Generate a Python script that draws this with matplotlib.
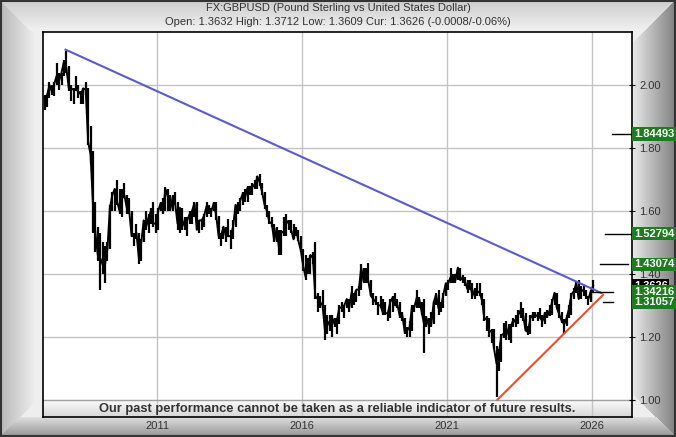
import numpy as np
import matplotlib
matplotlib.use('Agg')
import matplotlib.pyplot as plt

plt.rcParams['font.family'] = ['Liberation Sans', 'DejaVu Sans']

# monthly bars, Feb 2007 .. Jan 2026
lows = [
    1.92, 1.93, 1.96, 1.97, 1.965, 2.00, 1.985, 2.00, 2.03, 2.04, 1.98,
    1.95, 1.94, 1.98, 1.96, 1.94, 1.94, 1.97, 1.81, 1.75, 1.53, 1.47, 1.44,
    1.35, 1.40, 1.37, 1.44, 1.48, 1.60, 1.60, 1.62, 1.59, 1.58, 1.64, 1.59,
    1.59, 1.52, 1.49, 1.51, 1.43, 1.44, 1.50, 1.54, 1.53, 1.56, 1.55, 1.53,
    1.54, 1.60, 1.59, 1.60, 1.60, 1.60, 1.60, 1.62, 1.54, 1.53, 1.54, 1.54,
    1.52, 1.56, 1.56, 1.58, 1.54, 1.53, 1.54, 1.55, 1.58, 1.59, 1.58, 1.60,
    1.57, 1.51, 1.49, 1.51, 1.50, 1.52, 1.48, 1.51, 1.55, 1.59, 1.60, 1.62,
    1.63, 1.63, 1.65, 1.65, 1.67, 1.67, 1.68, 1.65, 1.605, 1.58, 1.56, 1.55,
    1.50, 1.50, 1.46, 1.46, 1.52, 1.52, 1.54, 1.53, 1.51, 1.52, 1.505, 1.47,
    1.41, 1.38, 1.40, 1.40, 1.43, 1.32, 1.28, 1.29, 1.29, 1.19, 1.21, 1.22,
    1.20, 1.23, 1.21, 1.24, 1.28, 1.26, 1.29, 1.28, 1.29, 1.30, 1.31, 1.33,
    1.35, 1.37, 1.37, 1.37, 1.33, 1.30, 1.30, 1.27, 1.29, 1.27, 1.27, 1.25,
    1.26, 1.28, 1.30, 1.29, 1.26, 1.25, 1.21, 1.20, 1.20, 1.22, 1.28, 1.29,
    1.29, 1.27, 1.15, 1.23, 1.21, 1.23, 1.24, 1.30, 1.27, 1.28, 1.29, 1.33,
    1.35, 1.37, 1.37, 1.37, 1.38, 1.38, 1.37, 1.36, 1.34, 1.35, 1.32, 1.32,
    1.33, 1.33, 1.30, 1.25, 1.22, 1.20, 1.18, 1.16, 1.01, 1.09, 1.12, 1.195,
    1.19, 1.19, 1.18, 1.23, 1.23, 1.24, 1.26, 1.25, 1.22, 1.205, 1.21, 1.25,
    1.26, 1.25, 1.26, 1.23, 1.24, 1.26, 1.265, 1.27, 1.30, 1.29, 1.26, 1.245,
    1.21, 1.235, 1.26, 1.27, 1.32, 1.34, 1.32, 1.32, 1.33, 1.32, 1.30, 1.31,
    1.34,
]
highs = [
    1.97, 1.97, 2.01, 2.00, 2.01, 2.07, 2.04, 2.04, 2.08, 2.11, 2.06,
    2.00, 1.99, 2.03, 2.00, 1.98, 1.99, 2.01, 1.99, 1.87, 1.79, 1.63, 1.55,
    1.53, 1.50, 1.49, 1.50, 1.62, 1.66, 1.67, 1.70, 1.67, 1.67, 1.69, 1.65,
    1.64, 1.60, 1.53, 1.56, 1.53, 1.51, 1.57, 1.60, 1.59, 1.61, 1.63, 1.59,
    1.61, 1.63, 1.64, 1.675, 1.67, 1.65, 1.65, 1.66, 1.63, 1.61, 1.61, 1.58,
    1.58, 1.60, 1.60, 1.63, 1.63, 1.57, 1.575, 1.59, 1.63, 1.62, 1.61, 1.63,
    1.63, 1.585, 1.53, 1.55, 1.55, 1.575, 1.54, 1.57, 1.62, 1.63, 1.64, 1.66,
    1.67, 1.68, 1.68, 1.69, 1.70, 1.71, 1.717, 1.69, 1.66, 1.62, 1.60, 1.58,
    1.56, 1.55, 1.54, 1.54, 1.58, 1.59, 1.57, 1.57, 1.56, 1.55, 1.54, 1.52,
    1.48, 1.46, 1.45, 1.46, 1.47, 1.50, 1.34, 1.33, 1.35, 1.30, 1.27, 1.27,
    1.27, 1.26, 1.26, 1.30, 1.31, 1.30, 1.32, 1.32, 1.36, 1.34, 1.35, 1.36,
    1.43, 1.42, 1.42, 1.435, 1.38, 1.34, 1.33, 1.31, 1.33, 1.32, 1.31, 1.28,
    1.32, 1.33, 1.34, 1.32, 1.31, 1.28, 1.26, 1.23, 1.25, 1.30, 1.30, 1.35,
    1.325, 1.31, 1.32, 1.265, 1.26, 1.28, 1.31, 1.34, 1.35, 1.31, 1.34, 1.37,
    1.38, 1.42, 1.40, 1.40, 1.42, 1.42, 1.395, 1.39, 1.38, 1.38, 1.37, 1.355,
    1.37, 1.37, 1.34, 1.32, 1.265, 1.26, 1.225, 1.225, 1.17, 1.16, 1.21, 1.245,
    1.25, 1.24, 1.24, 1.26, 1.27, 1.285, 1.31, 1.29, 1.275, 1.235, 1.27, 1.28,
    1.28, 1.28, 1.29, 1.27, 1.28, 1.285, 1.30, 1.32, 1.34, 1.34, 1.305, 1.28,
    1.255, 1.27, 1.30, 1.34, 1.355, 1.375, 1.38, 1.36, 1.36, 1.35, 1.33, 1.35,
    1.38,
]
closes = [
    1.96, 1.968, 2.00, 1.98, 2.005, 2.03, 2.015, 2.04, 2.075, 2.055, 1.99,
    1.99, 1.985, 1.985, 1.98, 1.97, 1.99, 1.985, 1.82, 1.78, 1.62, 1.53, 1.46,
    1.45, 1.43, 1.43, 1.48, 1.61, 1.65, 1.67, 1.63, 1.60, 1.64, 1.65, 1.61,
    1.60, 1.52, 1.52, 1.53, 1.45, 1.50, 1.57, 1.55, 1.58, 1.60, 1.56, 1.56,
    1.60, 1.625, 1.605, 1.67, 1.645, 1.605, 1.645, 1.625, 1.56, 1.61, 1.57, 1.55,
    1.57, 1.59, 1.60, 1.625, 1.54, 1.57, 1.57, 1.585, 1.615, 1.61, 1.60, 1.625,
    1.585, 1.52, 1.52, 1.55, 1.52, 1.52, 1.52, 1.55, 1.62, 1.60, 1.635, 1.655,
    1.645, 1.675, 1.665, 1.685, 1.675, 1.71, 1.69, 1.66, 1.62, 1.60, 1.565, 1.56,
    1.505, 1.545, 1.48, 1.535, 1.53, 1.57, 1.56, 1.54, 1.51, 1.545, 1.505, 1.475,
    1.425, 1.39, 1.435, 1.46, 1.45, 1.33, 1.32, 1.31, 1.30, 1.22, 1.25, 1.235,
    1.26, 1.24, 1.255, 1.295, 1.29, 1.30, 1.32, 1.29, 1.34, 1.33, 1.35, 1.35,
    1.42, 1.375, 1.40, 1.375, 1.33, 1.32, 1.31, 1.30, 1.30, 1.275, 1.275, 1.275,
    1.31, 1.325, 1.30, 1.30, 1.265, 1.27, 1.215, 1.22, 1.23, 1.295, 1.295, 1.325,
    1.32, 1.28, 1.24, 1.26, 1.235, 1.24, 1.31, 1.335, 1.29, 1.295, 1.335, 1.37,
    1.37, 1.39, 1.38, 1.38, 1.42, 1.38, 1.39, 1.375, 1.35, 1.37, 1.33, 1.35,
    1.345, 1.34, 1.315, 1.255, 1.26, 1.215, 1.22, 1.16, 1.115, 1.15, 1.205, 1.21,
    1.23, 1.205, 1.235, 1.255, 1.245, 1.27, 1.285, 1.27, 1.22, 1.215, 1.26, 1.27,
    1.27, 1.265, 1.26, 1.25, 1.275, 1.265, 1.285, 1.31, 1.34, 1.29, 1.27, 1.25,
    1.24, 1.26, 1.29, 1.335, 1.345, 1.37, 1.32, 1.35, 1.345, 1.33, 1.32, 1.345,
    1.3626,
]

# trend lines (year, price)
blue_x = [2007.845, 2026.33]
blue_y = [2.113, 1.339]
red_x = [2022.74, 2026.38]
red_y = [1.00, 1.333]

# target levels: value, segment start, segment end (years)
levels = [1.84493, 1.52794, 1.43074, 1.34216, 1.31057]
lev_x0 = [2026.69, 2026.45, 2026.28, 2026.03, 2026.38]
lev_x1 = [2027.38, 2027.38, 2027.24, 2026.72, 2026.72]
current = 1.3626

year_ticks = [2011, 2016, 2021, 2026]
price_ticks = [1.00, 1.20, 1.40, 1.60, 1.80, 2.00]

W, H = 676, 437
fig = plt.figure(figsize=(W / 100, H / 100), dpi=100)

# beveled frame background
bg = fig.add_axes([0, 0, 1, 1], zorder=-10)
yy, xx = np.mgrid[0:H, 0:W].astype(float)
dl, dr, dt, db = xx, W - 1 - xx, yy, H - 1 - yy
img = np.full((H, W), 0.93)
bands = [(dl, 36, 0.72, 0.94), (dt, 30, 0.80, 0.94),
         (dr, 44, 0.50, 0.92), (db, 20, 0.58, 0.88)]
dmin = np.minimum(np.minimum(dl, dr), np.minimum(dt, db))
for d, w, c0, c1 in bands:
    m = (d == dmin) & (d < w)
    img[m] = c0 + (c1 - c0) * (d[m] / w)
bg.imshow(img, cmap='gray', vmin=0, vmax=1, aspect='auto',
          extent=[0, W, H, 0], interpolation='nearest')
bg.add_patch(plt.Rectangle((0.5, 0.5), W - 1.5, H - 1.5, fill=False,
                           edgecolor='#333333', lw=1.5))
bg.set_xlim(0, W)
bg.set_ylim(H, 0)
bg.axis('off')

fig.text(0.5, 1 - 8 / H, 'FX:GBPUSD (Pound Sterling vs United States Dollar)',
         ha='center', va='center', fontsize=8, color='#333333')
fig.text(0.5, 1 - 22 / H,
         'Open: 1.3632 High: 1.3712 Low: 1.3609 Cur: 1.3626 (-0.0008/-0.06%)',
         ha='center', va='center', fontsize=8, color='#333333')

ax = fig.add_axes([43 / W, 1 - 417 / H, 589 / W, 385 / H])
ax.set_facecolor('white')
x0, x1 = 2007.069, 2027.379
y0, y1 = 0.945, 2.169
ax.set_xlim(x0, x1)
ax.set_ylim(y0, y1)

# disclaimer band below 1.00
band = np.linspace(0.99, 0.84, 20).reshape(-1, 1)
ax.imshow(band, cmap='gray', vmin=0, vmax=1, aspect='auto',
          extent=[x0, x1, y0, 1.0], zorder=0)

for yr in year_ticks:
    ax.axvline(yr, color='#c4c4c4', lw=1, zorder=1)
for p in price_ticks[1:]:
    ax.axhline(p, color='#c4c4c4', lw=1, zorder=1)
ax.axhline(1.0, color='#a0a0a0', lw=1, zorder=1)

t = 2007 + (np.arange(len(closes)) + 1.5) / 12
ax.vlines(t, lows, highs, color='black', lw=1.6, zorder=3)
ax.plot(t, closes, color='black', lw=1.4, zorder=3)

ax.plot(blue_x, blue_y, color='#5a5ad2', lw=1.5, zorder=4)
ax.plot(red_x, red_y, color='#e8502e', lw=1.5, zorder=4)
for v, a, b in zip(levels, lev_x0, lev_x1):
    ax.plot([a, b], [v, v], color='black', lw=1, zorder=4)

ax.text((x0 + x1) / 2, 0.972,
        'Our past performance cannot be taken as a reliable indicator of future results.',
        ha='center', va='center', fontsize=9.3, fontweight='bold', color='#333333',
        zorder=6)

ax.set_xticks(year_ticks)
ax.set_xticklabels([str(y) for y in year_ticks])
ax.tick_params(axis='x', length=0, labelsize=8, labelcolor='#333333', pad=3)
ax.yaxis.tick_right()
ax.set_yticks(price_ticks)
ax.set_yticklabels(['%.2f' % p for p in price_ticks])
ax.tick_params(axis='y', direction='inout', length=4, width=0.8,
               labelsize=8, labelcolor='#333333', pad=3)
for s in ax.spines.values():
    s.set_linewidth(1.2)
    s.set_color('black')

# price boxes on the right axis
lab = dict(transform=ax.get_yaxis_transform(), ha='left', va='center',
           fontsize=8, fontweight='bold', color='white', clip_on=False,
           zorder=10)
ax.text(1.003, current, '%.4f' % current,
        bbox=dict(boxstyle='square,pad=0.15', fc='black', ec='none'), **lab)
for v in levels:
    ax.text(1.003, v, '%.5f' % v,
            bbox=dict(boxstyle='square,pad=0.15', fc='#1b7d1b', ec='none'), **lab)

fig.savefig('out.png', dpi=100)
